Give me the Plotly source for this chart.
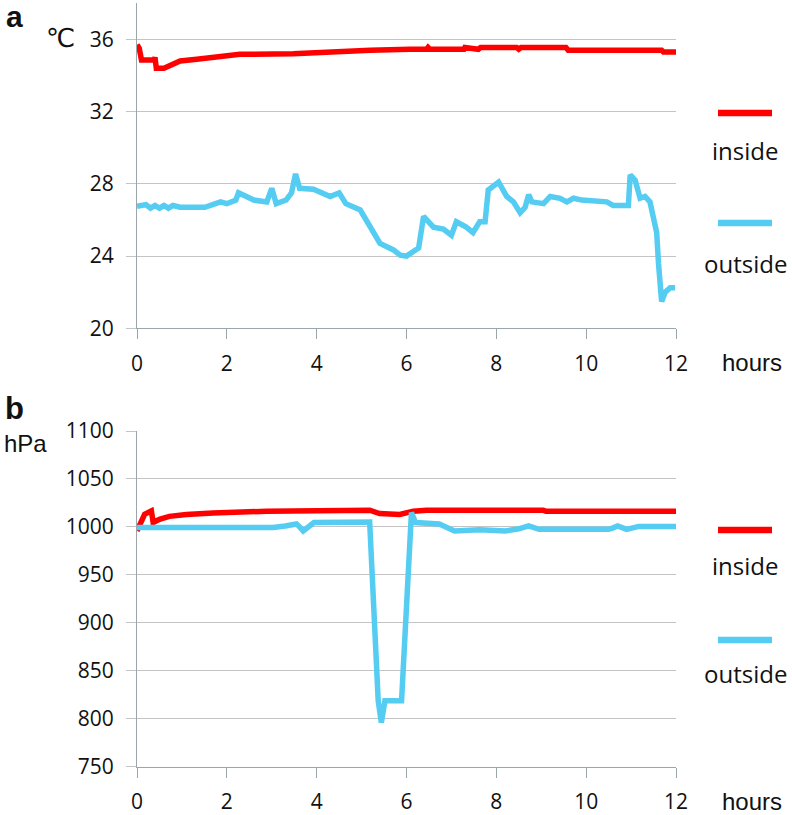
import plotly.graph_objects as go

# ---------------- data ----------------
# Panel a: temperature (°C) vs hours
temp_in_t = [0, 0.05, 0.1, 0.38, 0.4, 0.43, 0.6, 0.81, 0.96, 1.33, 1.77, 2.29, 3.48, 4.15, 5.19,
             6.08, 6.45, 6.48, 6.52, 7.28, 7.3, 7.6, 7.65, 8.45, 8.5, 8.55, 9.55, 9.6, 11.68, 11.72, 12]
temp_in = [35.7, 35.5, 34.85, 34.85, 35.0, 34.4, 34.4, 34.6, 34.8, 34.9, 35.0, 35.17, 35.2, 35.3, 35.4,
           35.45, 35.45, 35.55, 35.45, 35.45, 35.55, 35.45, 35.55, 35.55, 35.45, 35.55, 35.55, 35.4, 35.4, 35.3, 35.3]

temp_out_t = [0, 0.2, 0.3, 0.4, 0.5, 0.6, 0.7, 0.8, 0.96, 1.51, 1.86, 2.0, 2.2, 2.26, 2.6, 2.89, 3.0, 3.1,
              3.32, 3.44, 3.53, 3.62, 3.93, 4.3, 4.5, 4.65, 4.97, 5.19, 5.41, 5.71, 5.86, 6.0, 6.15, 6.27,
              6.38, 6.6, 6.82, 7.0, 7.11, 7.33, 7.48, 7.63, 7.75, 7.82, 8.05, 8.23, 8.38, 8.53, 8.64, 8.72,
              8.79, 9.05, 9.2, 9.42, 9.57, 9.72, 9.9, 10.31, 10.46, 10.6, 10.94, 10.98, 11.09, 11.2, 11.31,
              11.42, 11.5, 11.57, 11.61, 11.68, 11.76, 11.87, 11.98]
temp_out = [26.75, 26.85, 26.65, 26.8, 26.65, 26.8, 26.65, 26.8, 26.7, 26.7, 27.0, 26.9, 27.1, 27.5, 27.1,
            27.0, 27.75, 26.9, 27.1, 27.5, 28.55, 27.75, 27.7, 27.3, 27.5, 26.9, 26.55, 25.6, 24.7, 24.34,
            24.05, 24.0, 24.3, 24.45, 26.2, 25.6, 25.5, 25.15, 25.9, 25.6, 25.3, 25.9, 25.9, 27.66, 28.1,
            27.3, 27.0, 26.4, 26.7, 27.4, 27.0, 26.9, 27.3, 27.2, 27.0, 27.2, 27.1, 27.0, 27.0, 26.8, 26.8,
            28.49, 28.2, 27.2, 27.3, 27.0, 26.2, 25.3, 23.6, 21.48, 22.0, 22.25, 22.25]

# Panel b: pressure (hPa) vs hours
pres_in_t = [0, 0.17, 0.32, 0.36, 0.5, 0.72, 1.1, 1.69, 2.88, 4.07, 5.18, 5.4, 5.85, 6.15, 6.45, 9.04, 9.1, 12]
pres_in = [995.8, 1013.2, 1016.7, 1004.6, 1008, 1011, 1013, 1014.6, 1016.3, 1017.4, 1017.4, 1014, 1013,
           1016.4, 1017.4, 1017.4, 1016.4, 1016.4]

pres_out_t = [0, 1.0, 3.03, 3.3, 3.55, 3.6, 3.7, 3.94, 5.18, 5.37, 5.44, 5.52, 5.89, 6.11, 6.2, 6.73, 7.07,
              7.63, 8.2, 8.5, 8.72, 8.95, 10.5, 10.6, 10.7, 10.9, 11.17, 12]
pres_out = [999.3, 999.3, 999.3, 1001, 1003, 1001, 995.8, 1004.6, 1005.2, 818.7, 796, 818.7, 818.7, 1015,
            1004.5, 1003, 995.8, 997, 995.8, 998, 1001, 997.5, 997.5, 999, 1001, 997.5, 1000.5, 1000.5]

x_ticks = [0, 2, 4, 6, 8, 10, 12]
temp_ticks = [20, 24, 28, 32, 36]
pres_ticks = [750, 800, 850, 900, 950, 1000, 1050, 1100]
series_names = ["inside", "outside"]

# ---------------- style ----------------
W, H = 792, 815
RED = "#ff0000"
BLUE = "#55ccf2"
AXIS = "#9aa6aa"
GRID = "#c4c4c4"
TICKFONT = dict(family="Open Sans", size=21, color="#111111")
LW = 5.5


def px(x):
    return x / W


def py(y):
    return 1 - y / H


fig = go.Figure()
fig.add_trace(go.Scatter(x=temp_in_t, y=temp_in, mode="lines", line=dict(color=RED, width=LW),
                         name=series_names[0], xaxis="x", yaxis="y"))
fig.add_trace(go.Scatter(x=temp_out_t, y=temp_out, mode="lines", line=dict(color=BLUE, width=LW),
                         name=series_names[1], xaxis="x", yaxis="y"))
fig.add_trace(go.Scatter(x=pres_in_t, y=pres_in, mode="lines", line=dict(color=RED, width=LW),
                         name=series_names[0], xaxis="x2", yaxis="y2"))
fig.add_trace(go.Scatter(x=pres_out_t, y=pres_out, mode="lines", line=dict(color=BLUE, width=LW),
                         name=series_names[1], xaxis="x2", yaxis="y2"))

xcommon = dict(range=[0, 12], tickvals=x_ticks, showgrid=False, zeroline=False, showline=True,
               linecolor=AXIS, linewidth=1.2, ticks="outside", ticklen=10, tickcolor=AXIS, tickwidth=1.2,
               tickfont=TICKFONT, ticklabelstandoff=6, fixedrange=True, automargin=False)
ycommon = dict(showgrid=True, gridcolor=GRID, gridwidth=1.2, zeroline=False, showline=True,
               linecolor=AXIS, linewidth=1.2, ticks="outside", ticklen=10, tickcolor=GRID, tickwidth=1.2,
               tickfont=TICKFONT, ticklabelstandoff=8, fixedrange=True, automargin=False)

xdom = [px(137), px(676)]
fig.update_layout(
    width=W, height=H, autosize=False,
    margin=dict(l=0, r=0, t=0, b=0, pad=0),
    paper_bgcolor="white", plot_bgcolor="white",
    showlegend=False,
    xaxis=dict(domain=xdom, anchor="y", **xcommon),
    yaxis=dict(domain=[py(328.3), py(3.2)], anchor="x", range=[20, 38], tickvals=temp_ticks, **ycommon),
    xaxis2=dict(domain=xdom, anchor="y2", **xcommon),
    yaxis2=dict(domain=[py(766.7), py(431)], anchor="x2", range=[750, 1100], tickvals=pres_ticks, **ycommon),
)

ann = []


def label(text, x, y, size, family="Liberation Sans", bold=False):
    ann.append(dict(text=f"<b>{text}</b>" if bold else text, x=px(x), y=py(y), xref="paper", yref="paper",
                    showarrow=False, xanchor="center", yanchor="middle",
                    font=dict(family=family, size=size, color="#111111")))


label("a", 14, 17, 30, bold=True)
label("℃", 60, 38, 26, family="DejaVu Sans")
label("b", 14, 408, 31, bold=True)
label("hPa", 25, 443, 24)
label("hours", 752, 362, 24)
label("hours", 752, 801, 24)

# legends (line sample above text)
shapes = []
for (ly, color, name_y, name) in [(113, RED, 150, series_names[0]), (223, BLUE, 263, series_names[1]),
                                  (530, RED, 565, series_names[0]), (640, BLUE, 673, series_names[1])]:
    shapes.append(dict(type="line", xref="paper", yref="paper", x0=px(718), x1=px(772), y0=py(ly), y1=py(ly),
                       line=dict(color=color, width=6.5)))
    label(name, 745, name_y, 24, family="Open Sans")

fig.update_layout(annotations=ann, shapes=shapes)
fig.write_html("out.html", config={"displayModeBar": False},
               post_script="document.body.style.margin='0';document.body.style.overflow='hidden';")
